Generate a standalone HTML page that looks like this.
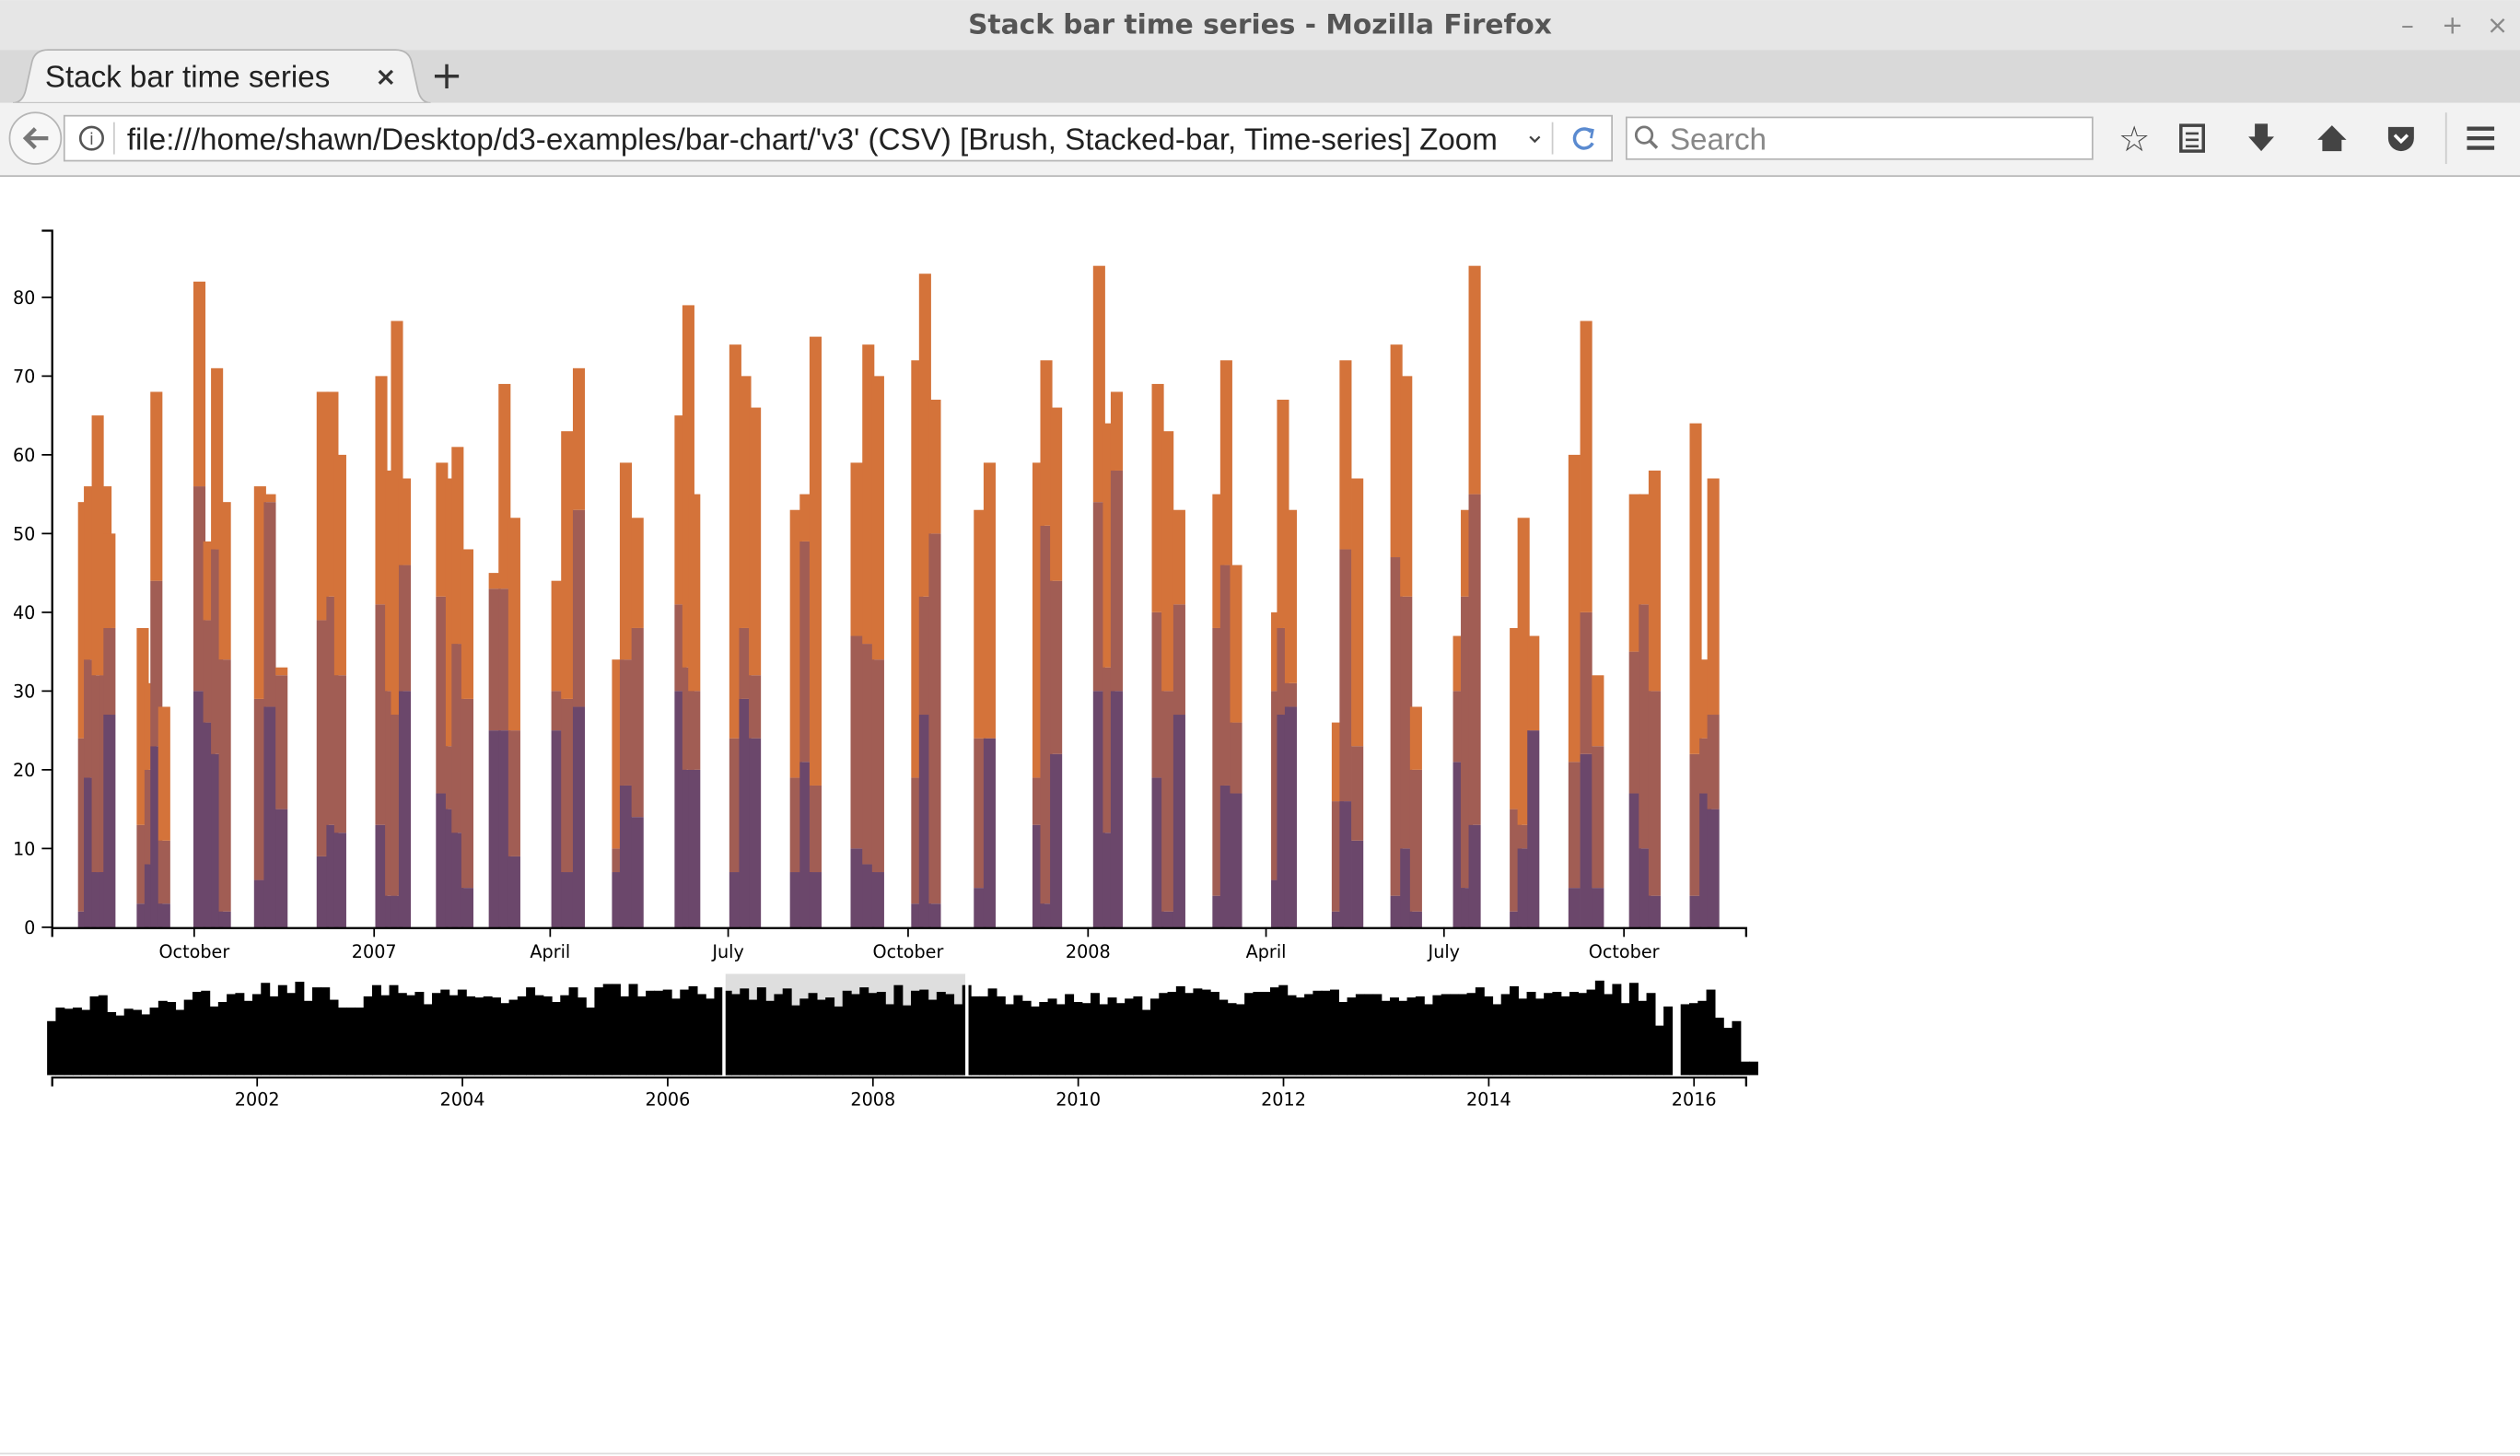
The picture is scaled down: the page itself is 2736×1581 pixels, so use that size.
<!DOCTYPE html>
<html><head><meta charset="utf-8"><title>Stack bar time series</title>
<style>
html,body{margin:0;padding:0;background:#fff;overflow:hidden}
svg{display:block}
text{font-family:"DejaVu Sans","Liberation Sans",sans-serif}
text.lib{font-family:"Liberation Sans",sans-serif}
</style></head>
<body>
<svg id="root" width="2736" height="1581" viewBox="0 0 1568 906" xmlns="http://www.w3.org/2000/svg">
  <g>
    <rect x="0" y="0" width="1568" height="31" fill="#e6e6e6"/>
    <text x="784" y="21" text-anchor="middle" font-size="17" font-weight="bold" fill="#555">Stack bar time series - Mozilla Firefox</text>
    <text x="1498" y="21" text-anchor="middle" font-size="16" fill="#888">–</text>
    <text x="1526" y="21" text-anchor="middle" font-size="16" fill="#888">+</text>
    <text x="1554" y="21" text-anchor="middle" font-size="16" fill="#888">×</text>
  </g>
  <g>
    <rect x="0" y="31" width="1568" height="33" fill="#d9d9d9"/>
    <path d="M8 64 Q14 64 16 56 L20 38 Q22 31 30 31 L246 31 Q254 31 256 38 L260 56 Q262 64 268 64 Z" fill="#f2f2f2" stroke="#b5b5b5"/>
    <text class="lib" x="28" y="54" font-size="19" fill="#222">Stack bar time series</text>
    <text x="240" y="53" text-anchor="middle" font-size="16" font-weight="bold" fill="#333">×</text>
    <text x="278" y="55" text-anchor="middle" font-size="24" fill="#333">+</text>
  </g>
  <g>
    <rect x="0" y="64" width="1568" height="45" fill="#f2f2f2"/>
    <line x1="0" y1="109.5" x2="1568" y2="109.5" stroke="#b8b8b8"/>
    <circle cx="22" cy="86" r="16" fill="#f7f7f7" stroke="#b5b5b5"/>
    <path d="M30 86 H16 M22 80 L16 86 L22 92" stroke="#777" stroke-width="2.5" fill="none"/>
    <rect x="40" y="72" width="963" height="28" fill="#fff" stroke="#b5b5b5"/>
    <circle cx="57" cy="86" r="7" fill="none" stroke="#555" stroke-width="1.5"/>
    <text x="57" y="90" text-anchor="middle" font-size="10" fill="#555">i</text>
    <line x1="71" y1="76" x2="71" y2="96" stroke="#ccc"/>
    <svg x="79" y="72" width="866" height="28" overflow="hidden">
      <text class="lib" x="0" y="21" font-size="19" fill="#222">file:///home/shawn/Desktop/d3-examples/bar-chart/'v3' (CSV) [Brush, Stacked-bar, Time-series] Zoom</text>
    </svg>
    <path d="M952 85 L955 88 L958 85" stroke="#444" fill="none" stroke-width="1.3"/>
    <line x1="966" y1="76" x2="966" y2="96" stroke="#ccc"/>
    <path d="M990 82 A6 6 0 1 0 991 89" stroke="#5a8ad0" stroke-width="2" fill="none"/>
    <path d="M986 80 L991 81 L990 86" stroke="#5a8ad0" stroke-width="1.6" fill="none"/>
    <rect x="1012" y="73" width="290" height="26" fill="#fff" stroke="#b5b5b5"/>
    <circle cx="1023" cy="84" r="5" fill="none" stroke="#777" stroke-width="1.6"/>
    <line x1="1027" y1="88" x2="1031" y2="92" stroke="#777" stroke-width="2"/>
    <text class="lib" x="1039" y="93" font-size="19" fill="#888">Search</text>
    <text x="1328" y="94" text-anchor="middle" font-size="22" fill="#444">☆</text>
    <rect x="1357" y="78" width="14" height="16" fill="none" stroke="#444" stroke-width="2"/>
    <path d="M1360 83 H1368 M1360 87 H1368 M1360 91 H1368" stroke="#444" stroke-width="1.5"/>
    <path d="M1403 77 H1411 V85 H1415 L1407 94 L1399 85 H1403 Z" fill="#444"/>
    <path d="M1442 87 L1451 78 L1460 87 H1457 V94 H1445 V87 Z" fill="#444"/>
    <path d="M1486 79 H1502 V86 A8 8 0 0 1 1486 86 Z" fill="#444"/>
    <path d="M1490 84 L1494 88 L1498 84" stroke="#fff" stroke-width="2" fill="none"/>
    <line x1="1522" y1="70" x2="1522" y2="102" stroke="#ccc"/>
    <path d="M1535 80 H1552 M1535 86 H1552 M1535 92 H1552" stroke="#444" stroke-width="2.5"/>
  </g>
  <line x1="0" y1="904.5" x2="1568" y2="904.5" stroke="#ddd"/>

  <g id="focus"></g>
  <g id="context"></g>
</svg>
<script>
// ---- focus chart data (day offset from 2006-07-20) ----
const barDays = [14,17,21,25,27, 44,48,51,55, 73,78,82,86, 104,109,115, 136,141,145, 166,171,174,178, 197,202,205,210, 224,229,234, 256,261,267, 287,291,297, 319,323,326, 347,352,357, 378,383,388, 409,415,420, 440,444,449, 472,477, 502,506,511, 533,538,542, 563,568,574, 594,598,603, 624,627,631, 655,659,665, 685,690,695, 717,721,725, 746,750,755, 776,782,788, 807,812,817, 838,843,847];
const bottomSeries = [2,19,7,7,27, 3,8,23,3, 30,26,22,2, 6,28,15, 9,13,12, 13,4,4,30, 17,15,12,5, 25,25,9, 25,7,28, 7,18,14, 30,20,20, 7,29,24, 7,21,7, 10,8,7, 3,27,3, 5,24, 13,3,22, 30,12,30, 19,2,27, 4,18,17, 6,27,28, 2,16,11, 4,10,2, 21,5,13, 2,10,25, 5,22,5, 17,10,4, 4,17,15];
const middleSeries = [22,15,25,25,11, 10,12,21,8, 26,13,26,32, 23,26,17, 30,29,20, 28,26,23,16, 25,8,24,24, 18,18,16, 5,22,25, 3,16,24, 11,13,10, 17,9,8, 12,28,11, 27,28,27, 16,15,47, 19,0, 6,48,22, 24,21,28, 21,28,14, 34,28,9, 24,11,3, 14,32,12, 43,32,18, 9,37,42, 13,3,0, 16,18,18, 18,31,26, 18,7,12];
const topSeries = [30,22,33,24,12, 25,11,24,17, 26,10,23,20, 27,1,1, 29,26,28, 29,28,50,11, 17,34,25,19, 2,26,27, 14,34,18, 24,25,14, 24,46,25, 50,32,34, 34,6,57, 22,38,36, 53,41,17, 29,35, 40,21,22, 30,31,10, 29,33,12, 17,26,20, 10,29,22, 10,24,34, 27,28,8, 7,11,29, 23,39,12, 39,37,9, 20,14,28, 42,10,30];
const focusTickDates = ["2006-10-01","2007-01-01","2007-04-01","2007-07-01","2007-10-01","2008-01-01","2008-04-01","2008-07-01","2008-10-01"];
const focusTickLabels = ["October","2007","April","July","October","2008","April","July","October"];
const yTicks = [0,10,20,30,40,50,60,70,80];

// ---- context chart data (monthly from 2000-01) ----
const contextValues = [48,60,59,60,58,70,71,56,53,59,58,54,
 60,66,65,58,67,74,75,61,65,72,73,66,
 72,82,70,80,73,83,66,78,78,67,60,60,
 60,70,80,71,80,73,71,74,63,73,76,71,
 76,70,69,70,69,64,67,70,78,71,70,65,
 71,78,69,60,78,81,81,70,81,70,75,75,
 76,68,76,79,72,68,78,75,72,77,67,78,
 66,72,77,62,68,73,67,69,61,75,72,78,
 73,74,63,80,62,75,76,67,74,72,63,80,
 70,70,77,70,63,71,66,61,65,68,63,72,
 65,64,73,63,69,64,68,70,58,68,73,74,
 79,73,77,76,74,67,64,63,73,74,74,78,
 80,71,69,72,75,75,76,65,69,72,72,72,
 66,69,66,69,70,63,71,72,72,72,73,78,
 70,63,72,79,68,74,68,73,74,70,74,73,
 76,84,72,81,64,82,66,73,44,61,0,63,
 64,66,76,51,42,48,12,12];
const contextTickYears = [2002,2004,2006,2008,2010,2012,2014,2016];

const NS = "http://www.w3.org/2000/svg";
function mk(tag, attrs, parent){const e=document.createElementNS(NS,tag);for(const k in attrs)e.setAttribute(k,attrs[k]);parent.appendChild(e);return e;}

const DAY = 86400000;
const focusStart = Date.UTC(2006,6,20);
const pxPerDay = 1.217;
function xDay(d){return 32 + d*pxPerDay;}
function xDate(s){const p=s.split("-");return xDay((Date.UTC(+p[0],+p[1]-1,+p[2])-focusStart)/DAY);}
function yVal(v){return 577 - v*4.9;}
const ctxStart = 2000.0, ctxPxPerYear = 63.86;
function xYear(y){return 32.3 + (y-ctxStart)*ctxPxPerYear;}
function xMonth(i){return xYear(ctxStart + i/12) - 3;}
function yCtx(v){return 669 - v*0.7;}

const focus = document.getElementById("focus");
const colors = ["#6b476b","#a15d54","#d4733a"];
const names = ["purple","middle","orange"];
for(let i=0;i<barDays.length;i++){
  const segs=[bottomSeries[i],middleSeries[i],topSeries[i]];
  let base=0;
  const x=xDay(barDays[i]);
  for(let s=0;s<3;s++){
    const y0=yVal(base), y1=yVal(base+segs[s]);
    if(segs[s]>0){
      const r=mk("rect",{x:x-0.5,y:y1,width:7.5,height:y0-y1,fill:colors[s]},focus);
      
      
    }
    base+=segs[s];
  }
}
const yax=mk("g",{},focus);


mk("path",{d:"M26 143.5 H32.5 V577.5",stroke:"#000",fill:"none","stroke-width":1.3},yax);
for(const t of yTicks){
  const y=yVal(t);
  mk("line",{x1:26,x2:32,y1:y,y2:y,stroke:"#000"},yax);
  const tx=mk("text",{x:22,y:y+4,"text-anchor":"end","font-size":11,fill:"#000"},yax);
  tx.textContent=t;
  
  
}
const xax=mk("g",{},focus);


mk("path",{d:"M32.5 583 V577.5 H1086.5 V583",stroke:"#000",fill:"none","stroke-width":1.3},xax);
focusTickDates.forEach((d,i)=>{
  const x=xDate(d);
  mk("line",{x1:x,x2:x,y1:577,y2:583,stroke:"#000"},xax);
  const tx=mk("text",{x:x,y:596,"text-anchor":"middle","font-size":11,fill:"#000"},xax);
  tx.textContent=focusTickLabels[i];
  
  
});

const ctx=document.getElementById("context");
const bxs = xYear(2006+200/365), bxe = xYear(2008+335/366);
const brush=mk("rect",{x:bxs,y:606,width:bxe-bxs,height:64,fill:"#dedede"},ctx);


contextValues.forEach((v,i)=>{
  if(v<=0)return;
  const y=yCtx(v);
  const r=mk("rect",{x:xMonth(i),y:y,width:5.7,height:669-y,fill:"#000"},ctx);
  
  
});
const h1=mk("rect",{x:bxs-1,y:606,width:2,height:64,fill:"#fff"},ctx);


const h2=mk("rect",{x:bxe-1,y:606,width:2,height:64,fill:"#fff"},ctx);


const cax=mk("g",{},ctx);


mk("path",{d:"M32.5 676 V670.5 H1086.5 V676",stroke:"#000",fill:"none","stroke-width":1.3},cax);
contextTickYears.forEach(yr=>{
  const x=xYear(yr);
  mk("line",{x1:x,x2:x,y1:670,y2:676,stroke:"#000"},cax);
  const tx=mk("text",{x:x,y:688,"text-anchor":"middle","font-size":11,fill:"#000"},cax);
  tx.textContent=yr;
  
  
});
</script>
</body></html>
